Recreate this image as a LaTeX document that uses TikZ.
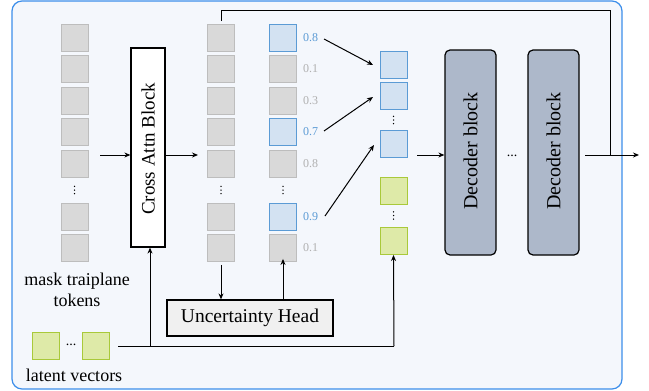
\documentclass[tikz,border=0pt]{standalone}
\usepackage{fontspec}
\setmainfont{Liberation Serif}
\usetikzlibrary{arrows.meta}
\definecolor{frameblue}{HTML}{3C8EEA}
\definecolor{framefill}{HTML}{F4F7FC}
\definecolor{tokgray}{HTML}{D9D9D9}
\definecolor{tokgrayb}{HTML}{BDBDBD}
\definecolor{tokblue}{HTML}{D3E2F2}
\definecolor{tokblueb}{HTML}{5B9BD5}
\definecolor{tokgreen}{HTML}{DEEAA8}
\definecolor{tokgreenb}{HTML}{A9C93A}
\definecolor{decfill}{HTML}{ADB8CA}
\definecolor{uhfill}{HTML}{F0F0F0}
\definecolor{numgray}{HTML}{B0B0B0}
\tikzset{
  tok/.style={draw=tokgrayb, fill=tokgray, line width=0.9pt, minimum width=27pt, minimum height=27pt, inner sep=0pt},
  btok/.style={draw=tokblueb, fill=tokblue, line width=0.9pt, minimum width=27pt, minimum height=27pt, inner sep=0pt},
  gtok/.style={draw=tokgreenb, fill=tokgreen, line width=0.9pt, minimum width=27pt, minimum height=27pt, inner sep=0pt},
  num/.style={font=\fontsize{12}{13}\selectfont, text=numgray, inner sep=0pt},
  bnum/.style={font=\fontsize{12}{13}\selectfont, text=tokblueb, inner sep=0pt},
  arr/.style={-{Stealth[length=6pt,width=5pt]}, line width=1pt},
  ln/.style={line width=1pt},
  lbl/.style={font=\fontsize{18}{20}\selectfont, align=center, inner sep=0pt},
  bigtxt/.style={font=\fontsize{20}{22}\selectfont},
}
\newcommand{\vdotsat}[2]{%
  \foreach \dd in {-3.6,0,3.6} \fill (#1,#2+\dd) circle (0.75pt);}
\begin{document}
\begin{tikzpicture}[x=1pt,y=-1pt]
\useasboundingbox (0,0) rectangle (649,391);
\draw[frameblue, fill=framefill, line width=1.2pt, rounded corners=10pt] (12,1) rectangle (622,389);

% column 1
\foreach \y/\n in {38/1,69/2,100.5/3,132/4,163.5/5,217/6,248/7}
  \node[tok] (a\n) at (74.5,\y) {};
\vdotsat{74.5}{190}
\node[lbl] (masklbl) at (77,290) {mask traiplane\\[1pt]tokens};

% cross attn block
\node[draw, fill=white, line width=1.2pt, minimum width=34pt, minimum height=199pt, inner sep=0pt] (ca) at (148,147.5) {};
\node[rotate=90, font=\fontsize{19}{20}\selectfont] (catext) at (148,149) {Cross Attn Block};

% column 2
\foreach \y/\n in {38/1,69/2,100.5/3,132/4,163.5/5,217/6,248/7}
  \node[tok] (b\n) at (221,\y) {};
\vdotsat{221}{190}

% column 3
\node[btok] (c1) at (283,38) {};
\node[tok] (c2) at (283,69) {};
\node[tok] (c3) at (283,100.5) {};
\node[btok] (c4) at (283,132) {};
\node[tok] (c5) at (283,163.5) {};
\node[btok] (c6) at (283,217) {};
\node[tok] (c7) at (283,248) {};
\vdotsat{283}{190}
\node[bnum] (n1) at (310.5,38) {0.8};
\node[num] (n2) at (310.5,69) {0.1};
\node[num] (n3) at (310.5,100.5) {0.3};
\node[bnum] (n4) at (310.5,132) {0.7};
\node[num] (n5) at (310.5,163.5) {0.8};
\node[bnum] (n6) at (310.5,217) {0.9};
\node[num] (n7) at (310.5,248) {0.1};

% column 4
\node[btok] (d1) at (393.5,65) {};
\node[btok] (d2) at (393.5,96) {};
\vdotsat{393.5}{120}
\node[btok] (d3) at (393.5,144) {};
\node[gtok] (g1) at (393.5,191) {};
\vdotsat{393.5}{215.5}
\node[gtok] (g2) at (393.5,241) {};

% decoder blocks
\node[draw, fill=decfill, line width=1.2pt, rounded corners=5pt, minimum width=51pt, minimum height=205pt, inner sep=0pt] (dec1) at (470.5,152.5) {};
\node[rotate=90, bigtxt] (dec1t) at (470.5,151) {Decoder block};
\node[font=\fontsize{14}{14}\selectfont, inner sep=0pt] (decdots) at (512,156) {...};
\node[draw, fill=decfill, line width=1.2pt, rounded corners=5pt, minimum width=51pt, minimum height=205pt, inner sep=0pt] (dec2) at (553.5,152.5) {};
\node[rotate=90, bigtxt] (dec2t) at (553.5,151) {Decoder block};

% uncertainty head
\node[draw, fill=uhfill, line width=1.2pt, minimum width=166pt, minimum height=36pt, inner sep=0pt, font=\fontsize{19.5}{20}\selectfont] (uh) at (250,318) {Uncertainty Head};

% latent vectors
\node[gtok] (l1) at (46,346) {};
\node[font=\fontsize{14}{14}\selectfont, inner sep=0pt] (ldots) at (71,345) {...};
\node[gtok] (l2) at (96,346) {};
\node[lbl] (latlbl) at (74,375) {latent vectors};

% coordinates
\coordinate (lstart) at (118,346);
\coordinate (lbr) at (150,346);
\coordinate (lcorner) at (394,346);
\coordinate (outstart) at (585,155);
\coordinate (outend) at (639,155);
\coordinate (topA) at (221,10);
\coordinate (topB) at (610,10);
\coordinate (topC) at (610,155);

% arrows
\draw[arr] (100,155) -- (ca.west |- 0,155);
\draw[arr] (ca.east |- 0,155) -- (198,155);
\draw[ln] (lstart) -- (lcorner);
\draw[arr] (lbr) -- (ca.south -| lbr);
\draw[arr] (lcorner) -- (g2.south);
\draw[arr] (b7.south) ++(0,3) -- (uh.north -| b7);
\draw[arr] (uh.north -| c7) -- ([yshift=3pt]c7.south);
\draw[arr] (324,39) -- (373,65);
\draw[arr] (324,131) -- (373,97);
\draw[arr] (325,216) -- (374,145);
\draw[arr] (417,155) -- (dec1.west |- 0,155);
\draw[arr] (outstart) -- (outend);
\draw[ln] (b1.north) ++(0,-3) -- (topA) -- (topB) -- (topC);
\end{tikzpicture}
\end{document}
